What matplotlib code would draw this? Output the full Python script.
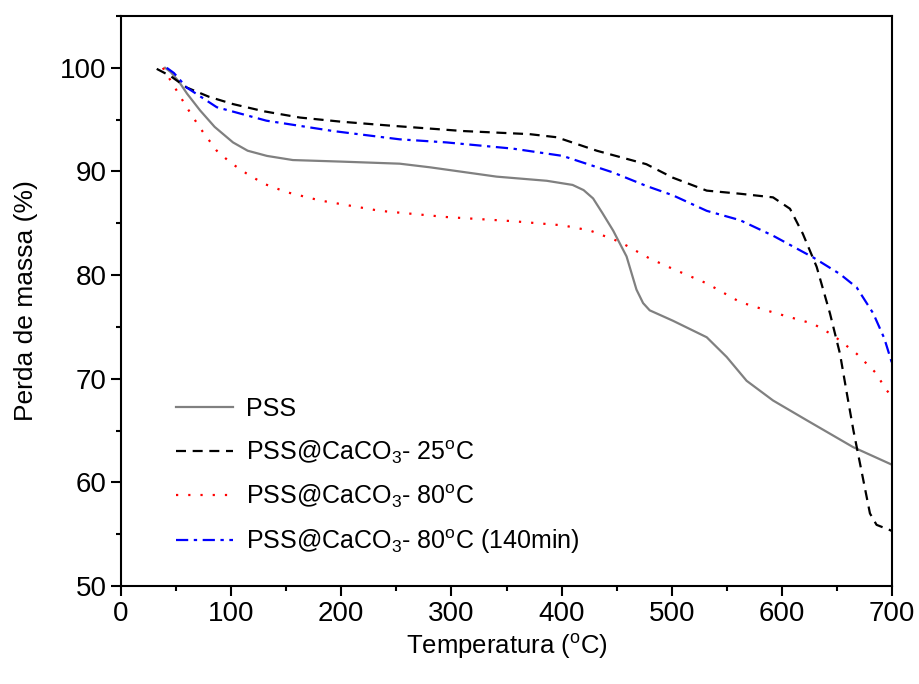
import numpy as np
import matplotlib
matplotlib.use('Agg')
import matplotlib.pyplot as plt
from matplotlib.ticker import MultipleLocator

plt.rcParams['font.family'] = ['Liberation Sans', 'DejaVu Sans']
plt.rcParams['mathtext.fontset'] = 'custom'
plt.rcParams['mathtext.rm'] = 'Liberation Sans'
plt.rcParams['mathtext.it'] = 'Liberation Sans:italic'

# PSS (gray solid)
t_pss = [40, 45, 52.7, 60, 71.7, 85, 101.7, 115, 132.5, 156, 200, 253, 280.5,
         341, 386.5, 410, 420, 428.6, 437, 446.8, 459, 468, 474, 480, 501, 531.8,
         549.9, 568, 592, 622.5, 664.7, 700]
m_pss = [100, 99.6, 98.65, 97.5, 95.9, 94.3, 92.8, 92.0, 91.5, 91.1, 90.95, 90.75, 90.4,
         89.5, 89.1, 88.7, 88.2, 87.4, 86.0, 84.3, 81.8, 78.6, 77.3, 76.6, 75.6, 74.0,
         72.1, 69.8, 67.9, 66.0, 63.4, 61.7]

# PSS@CaCO3 - 25 C (black dashed)
t_25 = [32.4, 45, 59.6, 80, 101.7, 130, 162.5, 200, 247, 310.5, 371, 395.6, 432,
        477, 501, 531.8, 562, 592, 607.4, 619, 631.6, 643.7, 652.8, 659, 665,
        674, 680, 686, 698, 700]
m_25 = [99.9, 99.2, 98.1, 97.2, 96.5, 95.8, 95.2, 94.8, 94.4, 93.9, 93.6, 93.3, 92.0,
        90.7, 89.4, 88.15, 87.85, 87.5, 86.4, 84.0, 80.8, 76.3, 72.4, 68.6, 65.0,
        60.2, 57.0, 55.9, 55.4, 55.3]

# PSS@CaCO3 - 80 C (red dotted)
t_80 = [38, 41.4, 50, 59.6, 71.7, 86.9, 100, 114, 130, 150.4, 180.7, 235, 295.7,
        356, 401, 425.8, 453, 480, 501, 531.8, 562, 592, 628.5, 646.5, 668, 685,
        695, 700]
m_80 = [100, 99.4, 97.9, 96.2, 94.2, 92.0, 90.8, 89.8, 88.8, 88.0, 87.2, 86.2, 85.6,
        85.2, 84.8, 84.3, 83.2, 81.6, 80.6, 79.2, 77.4, 76.4, 75.3, 74.2, 72.4, 70.6,
        68.9, 68.3]

# PSS@CaCO3 - 80 C (140min) (blue dash-dot)
t_140 = [41.5, 48, 59.6, 86.9, 132, 192.6, 253, 295.7, 356, 401, 446.8, 477, 501,
         531.8, 562, 592, 628.5, 652.8, 668, 683, 693, 700]
m_140 = [100, 99.5, 98.1, 96.2, 94.9, 93.9, 93.1, 92.8, 92.2, 91.5, 89.9, 88.6, 87.7,
         86.2, 85.3, 83.8, 81.7, 80.1, 78.8, 76.3, 73.9, 71.5]

labels = ['PSS',
          r'PSS@CaCO$_3$- 25$^{\mathrm{o}}$C',
          r'PSS@CaCO$_3$- 80$^{\mathrm{o}}$C',
          r'PSS@CaCO$_3$- 80$^{\mathrm{o}}$C (140min)']

fig = plt.figure(figsize=(9.19, 6.84), dpi=100)
ax = fig.add_axes([0.1317, 0.1433, 0.8389, 0.8333])

ax.plot(t_pss, m_pss, color='#808080', lw=1.6, label=labels[0])
ax.plot(t_25, m_25, color='black', lw=1.6, dashes=(4.5, 3), label=labels[1])
ax.plot(t_80, m_80, color='red', lw=1.6, dashes=(1, 4.5), label=labels[2])
ax.plot(t_140, m_140, color='blue', lw=1.6, dashes=(5.5, 2.5, 1.5, 2.5), label=labels[3])

ax.set_xlim(0, 700)
ax.set_ylim(50, 105)
ax.xaxis.set_major_locator(MultipleLocator(100))
ax.xaxis.set_minor_locator(MultipleLocator(50))
ax.yaxis.set_major_locator(MultipleLocator(10))
ax.yaxis.set_minor_locator(MultipleLocator(5))
ax.tick_params(which='both', direction='out', top=False, right=False, width=1.5,
               labelsize=20)
ax.tick_params(which='major', length=7)
ax.tick_params(which='minor', length=3.5)
for s in ax.spines.values():
    s.set_linewidth(1.5)

ax.set_xlabel(r'Temperatura ($^{\mathrm{o}}$C)', fontsize=18.5, labelpad=4)
ax.set_ylabel('Perda de massa (%)', fontsize=19, labelpad=16)

ax.legend(loc='lower left', bbox_to_anchor=(0.042, 0.014), frameon=False,
          fontsize=18, handlelength=2.3, handletextpad=0.5, labelspacing=0.67)

plt.savefig('out.png', dpi=100)
